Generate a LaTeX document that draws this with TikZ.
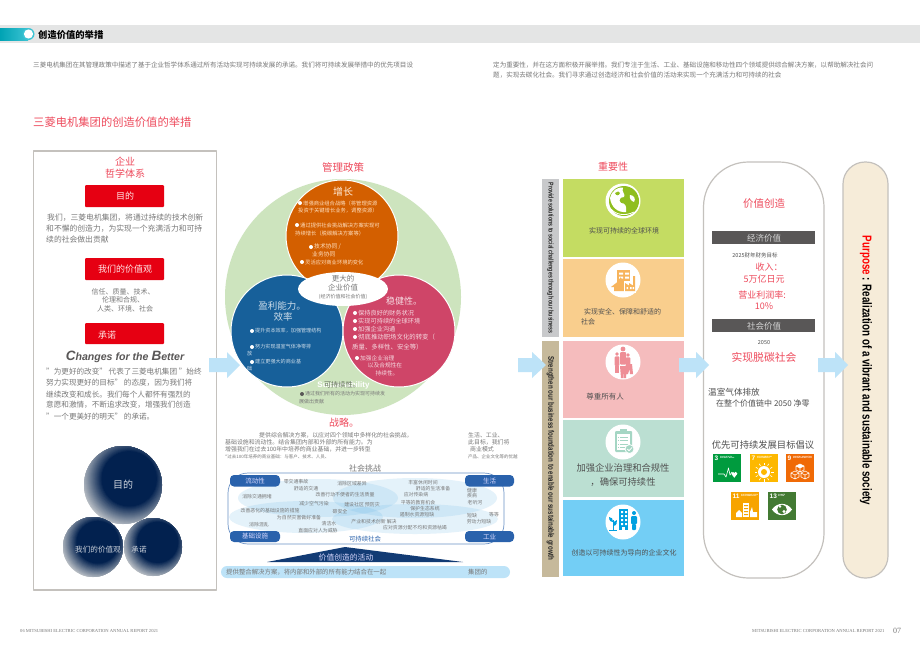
\documentclass[tikz,border=0pt]{standalone}
\usepackage{fontspec}
\setmainfont{Noto Sans CJK SC}
\newfontfamily\narrowfont[FakeStretch=0.76]{Liberation Sans}
\newfontfamily\latinsans{Liberation Sans}
\newfontfamily\latinserif{Liberation Serif}
\usetikzlibrary{shapes.geometric}
\definecolor{headgray}{HTML}{E4E5E5}
\definecolor{bodytxt}{HTML}{787878}
\definecolor{darktxt}{HTML}{505050}
\definecolor{redtxt}{HTML}{EE4A5C}
\definecolor{redbox}{HTML}{E60012}
\definecolor{panelline}{HTML}{C4C1BD}
\definecolor{arrowblue}{HTML}{BDE3F8}
\definecolor{venngreen}{HTML}{CDE4BE}
\definecolor{vennorange}{HTML}{D35F00}
\definecolor{vennblue}{HTML}{17609A}
\definecolor{vennpink}{HTML}{CF4568}
\definecolor{tabblue}{HTML}{2A62AC}
\definecolor{navy}{HTML}{02214F}
\definecolor{ballgray}{HTML}{C4C8CC}
\definecolor{darkband}{HTML}{595757}
\definecolor{cream}{HTML}{F6ECD9}
\definecolor{barone}{HTML}{C8C9CB}
\definecolor{bartwo}{HTML}{C6B99B}
\definecolor{cardA}{HTML}{C4DC62}
\definecolor{cardB}{HTML}{F9CE8D}
\definecolor{cardC}{HTML}{F5BCBD}
\definecolor{cardD}{HTML}{BBDFD2}
\definecolor{cardE}{HTML}{73CEF5}
\definecolor{iconA}{HTML}{8FBE1F}
\definecolor{iconB}{HTML}{F7B45C}
\definecolor{iconC}{HTML}{EE8E96}
\definecolor{iconD}{HTML}{A5D6C4}
\definecolor{iconE}{HTML}{00A0E0}
\definecolor{sdgA}{HTML}{009B3E}
\definecolor{sdgB}{HTML}{FDB800}
\definecolor{sdgC}{HTML}{F06A06}
\definecolor{sdgD}{HTML}{F7A400}
\definecolor{sdgE}{HTML}{437A33}
\definecolor{tealA}{HTML}{00A3B4}
\definecolor{tealB}{HTML}{3CC3D3}
\definecolor{softblue}{HTML}{5DB1E4}
\newcommand\fsz[1]{\fontsize{#1}{#1}\selectfont}
% centred and left-anchored text: x, y, size, colour, text
\newcommand\mkc[5]{\node[inner sep=0,text=#4,font=\fsz{#3}] at (#1,#2) {#5};}
\newcommand\mkl[5]{\node[inner sep=0,anchor=west,text=#4,font=\fsz{#3}] at (#1,#2) {#5};}
\newcommand\mkb[3]{\fill[#3] (#1,#2) circle[radius=2];}
\newcommand\flowarrow[3]{\fill[arrowblue] (#1,358) -- (#2,358) -- (#2,352) -- (#3,365) -- (#2,378) -- (#2,372) -- (#1,372) -- cycle;}
% ball: x, y, radius; navy core pushed to the upper right, grey rim at lower left
\newcommand\navyball[3]{%
  \begin{scope}
  \clip (#1,#2) circle[radius=#3];
  \foreach \k in {0,...,22}{
    \pgfmathtruncatemacro\mixp{\k/22*100}
    \fill[navy!\mixp!ballgray] ({#1+0.16*#3},{#2-0.16*#3}) circle[radius={#3*(1.26-0.025*\k)}];
  }
  \end{scope}}
\tikzset{
  sdgtext/.style={inner sep=0,anchor=north west,text=white,align=left,font=\latinsans\bfseries\fsz{1.6}},
  sdgnum/.style={inner sep=0,anchor=north west,text=white,font=\latinsans\bfseries\fsz{6.5}},
  softell/.style={fill=softblue,fill opacity=0.16,draw=none}
}
\begin{document}
\begin{tikzpicture}[x=1pt,y=-1pt,line join=round]
\useasboundingbox (0,0) rectangle (920,651);
\fill[white] (0,0) rectangle (920,651);
% header
\fill[headgray] (0,25) rectangle (920,43);
\fill[left color=tealA,right color=tealB] (0,28) rectangle (28,40);
\fill[tealB] (28.5,34) circle[radius=6];
\fill[white] (28.5,34) circle[radius=4.6];
\node[inner sep=0,anchor=west,font=\bfseries\fsz{9.3}] at (38,34.5) {创造价值的举措};
\mkl{33}{65}{6.55}{bodytxt}{三菱电机集团在其管理政策中描述了基于企业哲学体系通过所有活动实现可持续发展的承诺。我们将可持续发展举措中的优先项目设}
\mkl{493}{65}{6.55}{bodytxt}{定为重要性，并在这方面积极开展举措。我们专注于生活、工业、基础设施和移动性四个领域提供综合解决方案，以帮助解决社会问}
\mkl{493}{75}{6.55}{bodytxt}{题，实现去碳化社会。我们寻求通过创造经济和社会价值的活动来实现一个充满活力和可持续的社会}
\mkl{33}{122}{11.3}{redtxt}{三菱电机集团的创造价值的举措}
% left panel
\draw[panelline,line width=1.3] (33.5,151) rectangle (216.5,590);
\fill[redbox,rounded corners=1] (85,185) rectangle (164,207);
\fill[redbox,rounded corners=1] (85,258) rectangle (164,280);
\fill[redbox,rounded corners=1] (85,323) rectangle (164,344);
\mkc{125}{162}{10}{redtxt}{企业}
\mkc{125}{174}{10}{redtxt}{哲学体系}
\mkc{125}{196}{9}{white!90!red}{目的}
\mkc{125}{269}{9}{white!90!red}{我们的价值观}
\mkc{107}{335}{9}{white!90!red}{承诺}
\mkl{47}{218}{7.8}{bodytxt}{我们，三菱电机集团，将通过持续的技术创新}
\mkl{46}{229}{7.8}{bodytxt}{和不懈的创造力，为实现一个充满活力和可持}
\mkl{46}{240}{7.8}{bodytxt}{续的社会做出贡献}
\mkc{123}{292}{7}{bodytxt}{信任、质量、技术、}
\mkc{123}{300}{7}{bodytxt}{伦理和合规、}
\mkc{125}{309}{7}{bodytxt}{人类、环境、社会}
\node[inner sep=0,text=darkband,font=\latinsans\bfseries\itshape\fsz{10.6}] (better) at (125,357) {{\fsz{13.5}C}hanges for the {\fsz{13.5}B}etter};
\mkl{46}{372}{7.6}{bodytxt}{"为更好的改变" 代表了三菱电机集团 "始终}
\mkl{46}{383}{7.6}{bodytxt}{努力实现更好的目标" 的态度，因为我们将}
\mkl{46}{395}{7.6}{bodytxt}{继续改变和成长。我们每个人都怀有强烈的}
\mkl{46}{405}{7.6}{bodytxt}{意愿和激情，不断追求改变，增强我们创造}
\mkl{46}{417}{7.6}{bodytxt}{"一个更美好的明天" 的承诺。}
\navyball{123}{485}{39}
\navyball{93}{547}{30}
\navyball{153}{547}{29}
\mkc{123}{485}{10}{white!80!navy}{目的}
\mkc{98}{550}{7.6}{white!80!navy}{我们的价值观}
\mkc{139}{550}{7.6}{white!80!navy}{承诺}
% venn
\mkc{343}{167}{10.5}{redtxt}{管理政策}
\fill[venngreen] (343,297) circle[radius=118];
\draw[white,line width=1,fill=vennorange] (342,236) circle[radius=56];
\draw[white,line width=1,fill=vennblue] (287,331) circle[radius=56];
\draw[white,line width=1,fill=vennpink] (399,331) circle[radius=56];
\fill[white] (343,289) circle[x radius=45,y radius=17];
\mkc{343}{192}{10}{white!85!orange}{增长}
\def\otx{white!75!orange}
\mkb{300}{203}{white}\mkl{303}{203}{5.3}{\otx}{增强商业组合战略（将管理资源}
\mkl{298}{211}{5.3}{\otx}{投资于关键增长业务，调整资源）}
\mkb{297}{225}{white}\mkl{300}{225}{5.3}{\otx}{通过提供社会挑战解决方案实现可}
\mkl{295}{233}{5.3}{\otx}{持续增长（脱碳解决方案等）}
\mkb{311}{247}{white}\mkl{314}{247}{5.8}{\otx}{技术协同 /}
\mkl{312}{254}{5.8}{\otx}{业务协同}
\mkb{302}{262}{white}\mkl{305}{262}{5.3}{\otx}{灵活应对商业环境的变化}
\mkc{343}{279}{7.5}{bodytxt}{更大的}
\mkc{343}{288}{7.5}{bodytxt}{企业价值}
\mkc{343}{297}{5}{bodytxt}{(经济价值和社会价值)}
\def\btx{white!78!vennblue}
\mkc{282}{306}{9.5}{\btx}{盈利能力。}
\mkc{283}{317}{9.5}{\btx}{效率}
\mkb{252}{331}{white}\mkl{255}{331}{5.1}{\btx}{提升资本效率，加强管理结构}
\mkb{252}{347}{white}\mkl{255}{347}{5.1}{\btx}{努力实现温室气体净零排}
\mkl{247}{354}{5.1}{\btx}{放}
\mkb{252}{362}{white}\mkl{255}{362}{5.1}{\btx}{建立更强大的商业基}
\mkl{247}{369}{5.1}{\btx}{础}
\def\ptx{white!80!vennpink}
\mkc{404}{301}{9}{\ptx}{稳健性。}
\mkb{355}{313}{white}\mkl{358}{313}{6.2}{\ptx}{保持良好的财务状况}
\mkb{355}{321}{white}\mkl{358}{321}{6.2}{\ptx}{实现可持续的全球环境}
\mkb{355}{329}{white}\mkl{358}{329}{6.2}{\ptx}{加强企业沟通}
\mkb{355}{337}{white}\mkl{358}{337}{6.4}{\ptx}{彻底推动职场文化的转变（}
\mkl{352}{347}{6.4}{\ptx}{质量、多样性、安全等）}
\mkb{357}{358}{white}\mkl{360}{358}{5.7}{\ptx}{加强企业治理}
\mkc{385}{365}{5.7}{\ptx}{以及合规性在}
\mkc{387}{373}{5.7}{\ptx}{持续性。}
\node[inner sep=0,text=white,font=\latinsans\bfseries\fsz{8}] at (343.5,385) {Sustainability};
\mkc{342}{385}{7.2}{venngreen!50!black}{可持续性。}
\mkb{302}{394}{darkband}\mkl{305}{394}{5}{bodytxt}{通过我们所有的活动为实现可持续发}
\mkl{299}{402}{5}{bodytxt}{展做出贡献}
% strategy
\mkc{344}{423}{10}{redtxt}{战略。}
\mkl{259}{435}{5.9}{bodytxt}{提供综合解决方案，以应对四个领域中多样化的社会挑战，}
\mkl{225}{442}{5.9}{bodytxt}{基础设施和流动性。结合集团内部和外部的所有能力。为}
\mkl{225}{449}{5.9}{bodytxt}{增强我们在过去100年中培养的商业基础，并进一步转型}
\mkl{225}{457}{4.5}{bodytxt}{*过去100年培养的商业基础：与客户、技术、人员、}
\mkl{468}{435}{5.9}{bodytxt}{生活、工业、}
\mkl{468}{442}{5.9}{bodytxt}{此目标，我们将}
\mkl{470}{449}{5.9}{bodytxt}{商业模式}
\mkl{468}{457}{4.5}{bodytxt}{产品、企业文化等的优越}
\mkc{365}{468}{8}{bodytxt}{社会挑战}
% challenge area
\begin{scope}
\clip[rounded corners=20] (228,473) rectangle (504,544);
\fill[softell] (318,498) circle[x radius=80,y radius=19];
\fill[softell] (415,498) circle[x radius=82,y radius=20];
\fill[softell] (306,517) circle[x radius=77,y radius=16];
\fill[softell] (415,519) circle[x radius=83,y radius=15];
\end{scope}
\draw[tabblue!70,line width=0.7,rounded corners=20] (228,473) rectangle (504,544);
\foreach \a/\b/\c/\d/\e in {230/280/475/486.5/流动性,465/514/475/486.5/生活,230/280/531/542/基础设施,465/514/531/542/工业}{
  \fill[tabblue,rounded corners=4] (\a,\c) rectangle (\b,\d);
  \pgfmathsetmacro\mx{(\a+\b)/2}\pgfmathsetmacro\my{(\c+\d)/2}
  \node[inner sep=0,text=white!85!blue,font=\fsz{6.5}] at (\mx,\my) {\e};
}
\foreach \x/\y/\t in {296/482/零交通事故,306/489/舒适的交通,352/484/消除区域差异,423/483/丰富休闲时间,433/489/舒适的生活准备,472/491/健康,472/496/疾病,475/503/老听河,472/516/短缺,494/515/等等,479/522/劳动力短缺,257/497/消除交通拥堵,345/495/改善行动不便者的生活质量,416/495/应对传染病,418/503/平等的教育机会,314/504/减少空气污染,362/505/建设社区 预防灾,425/509/保护生态系统,270/511/改善恶化的基础设施的措施,340/512/碳安全,417/515/遏制水资源短缺/食物,299/518/为自然灾害做好准备,374/522/产业和技术创新 解决,259/525/消除混乱/不平等,329/524/清洁水,415/528/应对资源分配不均和资源枯竭,318/531/直面应对人为威胁}{
  \node[inner sep=0,text=bodytxt,font=\fsz{4.9}] at (\x,\y) {\t};
}
\mkc{365}{539}{6.4}{tabblue}{可持续社会}
\fill[navy!60!tabblue] (345,547) -- (463,562) -- (267,562) -- cycle;
\mkc{346}{558}{7.8}{white!85!blue}{价值创造的活动}
\fill[arrowblue,rounded corners=6] (221,566) rectangle (510,578);
\mkl{226}{572}{6.4}{bodytxt}{提供整合解决方案，将内部和外部的所有能力结合在一起}
\mkl{468}{572}{6.4}{bodytxt}{集团的}
% materiality
\mkc{613}{167}{10}{redtxt}{重要性}
\fill[barone] (542,179) rectangle (559,337);
\fill[bartwo] (542,341) rectangle (559,577);
\node[rotate=-90,inner sep=0,text=black!85,font=\narrowfont\bfseries\fsz{6.9}] at (550.5,258) {Provide solutions to social challenges through our business};
\node[rotate=-90,inner sep=0,text=black!85,font=\narrowfont\bfseries\fsz{8.1}] at (550.5,458.5) {Strengthen our business foundation to enable our sustainable growth};
\fill[cardA] (563,179) rectangle (684,257);
\fill[cardB] (563,259) rectangle (684,337);
\fill[cardC] (563,341) rectangle (684,418);
\fill[cardD] (563,420) rectangle (684,497);
\fill[cardE] (563,500) rectangle (684,576);
\foreach \cy in {201,280,362,442,522}{\fill[white] (623,\cy) circle[radius=17.5];}
% globe icon
\fill[iconA] (624,201) circle[radius=15];
\fill[white] (610,198) .. controls (612,190) and (618,187) .. (623,187.5) .. controls (621,192) and (626,194) .. (624,197) .. controls (620,197) and (618,200) .. (621,203) .. controls (625,203) and (627,206) .. (626,212) .. controls (618,213) and (611,207) .. (610,198) -- cycle;
\fill[iconA] (615,193) .. controls (617,191) and (620,191) .. (620,193) .. controls (619,196) and (616,196) .. (615,193) -- cycle;
\fill[white] (630,195) .. controls (634,195) and (636,199) .. (634,202) .. controls (631,201) and (629,198) .. (630,195) -- cycle;
\draw[white,line width=0.8] (611,209) .. controls (615,214) and (624,217) .. (634,212);
% house and factory icon
\fill[iconB] (617,270) rectangle (630,283);
\fill[white] (619,272.5) rectangle (623,274.5) (625,272.5) rectangle (629,274.5) (619,276.5) rectangle (623,278.5) (625,276.5) rectangle (629,278.5);
\fill[iconB] (620,277) -- (620,280) -- (611,287) -- (614,287) -- (614,291) -- (626,291) -- (626,287) -- (629,287) -- cycle;
\fill[white] (624,281) rectangle (636,293);
\fill[iconB] (625,291) -- (625,283) -- (629,285.5) -- (629,283) -- (633,285.5) -- (633,276) -- (635,276) -- (635,291) -- cycle;
\fill[white] (626.5,287) rectangle (628,289) (630,287) rectangle (631.5,289) (632.5,287) rectangle (634,289);
% people icon
\foreach \px/\py/\ph in {623/349/3,617/354/2.3,628/355/2.3}{
  \fill[iconC] (\px,\py) circle[radius=\ph*0.8];
  \fill[iconC,rounded corners=1] (\px-\ph,\py+\ph) rectangle (\px+\ph,\py+\ph*5.2);
}
\fill[iconC] (620,366) -- (627,366) -- (626,378) -- (623.7,378) -- (623.5,370) -- (623,378) -- (621,378) -- cycle;
\fill[iconC] (627,364) -- (632,364) -- (633,374) -- (630,374) -- (629.5,369) -- (628,374) -- (625,374) -- cycle;
\fill[iconC] (615,366) rectangle (619,373);
% clipboard icon
\fill[iconD,rounded corners=1] (615,431) rectangle (632,452);
\fill[iconD] (620,429) rectangle (627,433);
\fill[white] (617,434) rectangle (630,450);
\foreach \ly in {436.5,440,443.5,447}{\fill[iconD] (620,\ly) rectangle (628,\ly+1.2); \fill[iconD] (618,\ly) rectangle (619.2,\ly+1.2);}
\draw[white,line width=0.8,fill=iconD] (629.5,449) circle[radius=4.5];
\draw[white,line width=0.8] (627.3,449) -- (629,450.8) -- (632,447.5);
% building icon
\fill[iconE] (619,509) rectangle (628,530);
\foreach \wy in {511,515,519,523}{\fill[white] (621,\wy) rectangle (623,\wy+2) (625,\wy) rectangle (627,\wy+2);}
\fill[white] (622,527) rectangle (625,530);
\fill[iconE] (634,513) circle[radius=2];
\fill[iconE,rounded corners=1] (631,516) rectangle (637,524) (632,524) rectangle (636,530);
\draw[iconE,line width=0.8] (613,530) -- (613,520);
\fill[iconE] (613,522) .. controls (609,522) and (609,518) .. (609,517) .. controls (612,517) and (613,519) .. (613,522) -- cycle;
\fill[iconE] (613,526) .. controls (617,526) and (617,522) .. (617,520) .. controls (614,520) and (613,523) .. (613,526) -- cycle;
\draw[iconE,line width=0.6] (609,530) -- (617,530);
\mkc{624}{231}{7}{darktxt}{实现可持续的全球环境}
\mkl{584}{312}{7}{darktxt}{实现安全、保障和舒适的}
\mkl{581}{322}{7}{darktxt}{社会}
\mkc{605}{397}{7.5}{darktxt}{尊重所有人}
\mkc{623}{468}{9.3}{darktxt}{加强企业治理和合规性}
\mkc{623}{482}{9.3}{darktxt}{，确保可持续性}
\mkc{624}{553}{7}{darktxt}{创造以可持续性为导向的企业文化}
% value creation panel
\draw[panelline,line width=1.2,fill=white,rounded corners=45] (703.5,162) rectangle (824,578);
\draw[panelline,line width=1.2,fill=cream,rounded corners=22] (843,162) rectangle (888,578);
\node[rotate=-90,inner sep=0,font=\narrowfont\bfseries\fsz{12.9}] at (866,370.5) {{\color{red}Purpose} : Realization of a vibrant and sustainable society};
\mkc{764}{204}{10.5}{redtxt}{价值创造}
\fill[darkband] (712,231) rectangle (815,244);
\fill[darkband] (712,319) rectangle (815,332);
\mkc{764}{238}{8.5}{white!75!darkband}{经济价值}
\mkc{764}{326}{8.5}{white!75!darkband}{社会价值}
\mkc{755}{255}{5.5}{darktxt}{2025财年财务目标}
\mkc{769}{267}{9}{redtxt}{收入：}
\mkc{764}{279}{9}{redtxt}{5万亿日元}
\mkc{762}{295}{9}{redtxt}{营业利润率:}
\mkc{764}{306}{9}{redtxt}{10\%}
\mkc{764}{343}{5.5}{darktxt}{2050}
\mkc{764}{357}{10.8}{redtxt}{实现脱碳社会}
\mkl{708}{392}{8.6}{darktxt}{温室气体排放}
\mkl{716}{403}{8}{darktxt}{在整个价值链中 2050 净零}
\mkc{763}{445}{9.3}{darktxt}{优先可持续发展目标倡议}
% SDG tiles
\begin{scope}[shift={(713,454)}]
\fill[sdgA] (0,0) rectangle (28,28);
\node[sdgnum] at (1.5,1.5) {3};
\node[sdgtext] at (7,2) {GOOD HEALTH\\AND WELL-BEING};
\draw[white,line width=0.6] (5,20) -- (11,20) -- (13,23) -- (15.5,14) -- (17,21) -- (19,18);
\fill[white] (20,19.5) circle[radius=1.7] (22.6,19.5) circle[radius=1.7];
\fill[white] (18.6,20.2) -- (24,20.2) -- (21.3,23.8) -- cycle;
\end{scope}
\begin{scope}[shift={(750,454)}]
\fill[sdgB] (0,0) rectangle (27.5,28);
\node[sdgnum] at (1.5,1.5) {7};
\node[sdgtext] at (7,2) {AFFORDABLE AND\\CLEAN ENERGY};
\fill[white] (14,18) circle[radius=6];
\fill[sdgB] (14,18) circle[radius=3];
\foreach \ang in {0,30,...,330}{\draw[white,line width=0.6] (14,18) ++(\ang:7) -- ++(\ang:2.5);}
\end{scope}
\begin{scope}[shift={(786,454)}]
\fill[sdgC] (0,0) rectangle (28,28);
\node[sdgnum] at (1.5,1.5) {9};
\node[sdgtext] at (7,2) {INDUSTRY, INNOVATION\\AND INFRASTRUCTURE};
\foreach \bx/\by in {14/14,9/21,19/21}{
  \draw[white,line width=0.6] (\bx,\by-4) -- (\bx+4,\by-2) -- (\bx+4,\by+2) -- (\bx,\by+4) -- (\bx-4,\by+2) -- (\bx-4,\by-2) -- cycle (\bx-4,\by-2) -- (\bx,\by) -- (\bx+4,\by-2) (\bx,\by) -- (\bx,\by+4);
}
\fill[white] (10,12) -- (14,10) -- (18,12) -- (14,14) -- cycle;
\end{scope}
\begin{scope}[shift={(731,492)}]
\fill[sdgD] (0,0) rectangle (28,27.5);
\node[sdgnum] at (1.5,1.5) {11};
\node[sdgtext] at (10,2) {SUSTAINABLE CITIES\\AND COMMUNITIES};
\fill[white] (5,25) -- (5,21) -- (8,18) -- (11,21) -- (11,25) -- cycle;
\fill[white] (12,11) rectangle (18,25);
\fill[sdgD] (13,13) rectangle (17,14) (13,16) rectangle (17,17) (13,19) rectangle (17,20) (13,22) rectangle (17,23);
\fill[white] (19,25) -- (19,20) -- (21,15) -- (22,20) -- (26,20) -- (26,25) -- cycle;
\end{scope}
\begin{scope}[shift={(768,492)}]
\fill[sdgE] (0,0) rectangle (28,27.5);
\node[sdgnum] at (1.5,1.5) {13};
\node[sdgtext] at (10,2) {CLIMATE\\ACTION};
\fill[white] (4,17.5) .. controls (9,10) and (19,10) .. (24,17.5) .. controls (19,25) and (9,25) .. (4,17.5) -- cycle;
\fill[sdgE] (14,17.5) circle[radius=4.8];
\fill[white] (12,14.5) circle[radius=1.3] (16,19.5) circle[radius=1.6];
\end{scope}
% flow arrows
\flowarrow{209}{227}{240}
\flowarrow{518}{532}{546}
\flowarrow{679}{696}{709}
\flowarrow{818}{835}{848}
% footer
\node[inner sep=0,anchor=west,text=bodytxt,font=\latinserif\fsz{4.6}] at (20,631) {06 MITSUBISHI ELECTRIC CORPORATION ANNUAL REPORT 2021};
\node[inner sep=0,anchor=west,text=bodytxt,font=\latinserif\fsz{4.6}] at (752,631) {MITSUBISHI ELECTRIC CORPORATION ANNUAL REPORT 2021};
\node[inner sep=0,anchor=west,text=bodytxt,font=\latinserif\fsz{8}] at (893,631) {07};
\end{tikzpicture}
\end{document}
